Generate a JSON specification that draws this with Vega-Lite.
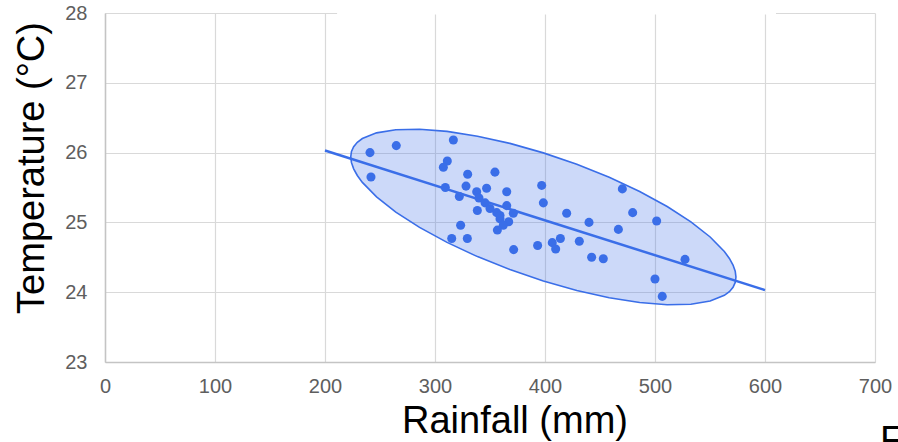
{
  "$schema": "https://vega.github.io/schema/vega-lite/v6.json",
  "width": 770,
  "height": 349,
  "autosize": {"type": "none"},
  "padding": {"left": 105, "top": 13, "right": 23, "bottom": 80},
  "background": "white",
  "config": {
    "view": {"stroke": null},
    "axis": {
      "labelFont": "Liberation Sans",
      "titleFont": "Liberation Sans",
      "labelFontSize": 20,
      "labelColor": "#5e5e5e",
      "titleFontSize": 38,
      "titleFontWeight": "normal",
      "titleColor": "#000000",
      "gridColor": "#d9d9d9",
      "gridWidth": 1.2,
      "domainColor": "#c4c4c4",
      "domainWidth": 1.5,
      "ticks": false,
      "labelFlush": false,
      "titleBaseline": "alphabetic"
    },
    "axisX": {"labelPadding": 14, "titleX": 409.5, "titleY": 70.5, "titleAnchor": null},
    "axisY": {"labelPadding": 18, "titleX": -62, "titleY": 154.5}
  },
  "datasets": {
    "ell": [
      {"rain": 223.4, "temp": 25.939, "temp2": 25.939},
      {"rain": 224.07, "temp": 26.016, "temp2": 25.856},
      {"rain": 226.06, "temp": 26.085, "temp2": 25.767},
      {"rain": 229.37, "temp": 26.147, "temp2": 25.672},
      {"rain": 233.96, "temp": 26.201, "temp2": 25.573},
      {"rain": 246.86, "temp": 26.283, "temp2": 25.365},
      {"rain": 264.37, "temp": 26.328, "temp2": 25.148},
      {"rain": 285.94, "temp": 26.335, "temp2": 24.928},
      {"rain": 310.95, "temp": 26.304, "temp2": 24.714},
      {"rain": 338.62, "temp": 26.235, "temp2": 24.51},
      {"rain": 368.1, "temp": 26.132, "temp2": 24.324},
      {"rain": 398.5, "temp": 25.996, "temp2": 24.16},
      {"rain": 428.9, "temp": 25.833, "temp2": 24.025},
      {"rain": 458.38, "temp": 25.646, "temp2": 23.921},
      {"rain": 486.05, "temp": 25.443, "temp2": 23.853},
      {"rain": 511.06, "temp": 25.228, "temp2": 23.821},
      {"rain": 532.63, "temp": 25.008, "temp2": 23.828},
      {"rain": 550.14, "temp": 24.791, "temp2": 23.873},
      {"rain": 563.04, "temp": 24.583, "temp2": 23.955},
      {"rain": 567.63, "temp": 24.484, "temp2": 24.008},
      {"rain": 570.94, "temp": 24.389, "temp2": 24.071},
      {"rain": 572.93, "temp": 24.3, "temp2": 24.14},
      {"rain": 573.6, "temp": 24.217, "temp2": 24.217}
    ],
    "reg": [
      {"rain": 200, "temp": 26.03},
      {"rain": 600, "temp": 24.03}
    ],
    "gap": [
      {"rain": 211, "rain2": 610, "temp": 28}
    ],
    "note": [
      {"rain": 704.5, "temp": 22.13, "label": "F"}
    ],
    "pts": [
      {"rain": 240.9, "temp": 26.0},
      {"rain": 264.8, "temp": 26.1},
      {"rain": 241.8, "temp": 25.65},
      {"rain": 316.7, "temp": 26.18},
      {"rain": 311.2, "temp": 25.88},
      {"rain": 307.6, "temp": 25.79},
      {"rain": 329.7, "temp": 25.69},
      {"rain": 354.5, "temp": 25.72},
      {"rain": 309.4, "temp": 25.5},
      {"rain": 328.2, "temp": 25.52},
      {"rain": 322.1, "temp": 25.37},
      {"rain": 337.9, "temp": 25.44},
      {"rain": 346.9, "temp": 25.49},
      {"rain": 340.0, "temp": 25.35},
      {"rain": 345.5, "temp": 25.28},
      {"rain": 338.5, "temp": 25.17},
      {"rain": 365.2, "temp": 25.44},
      {"rain": 365.2, "temp": 25.24},
      {"rain": 350.0, "temp": 25.2},
      {"rain": 356.1, "temp": 25.14},
      {"rain": 359.1, "temp": 25.05},
      {"rain": 359.1, "temp": 25.1},
      {"rain": 367.0, "temp": 25.01},
      {"rain": 371.2, "temp": 25.13},
      {"rain": 362.1, "temp": 24.96},
      {"rain": 356.7, "temp": 24.89},
      {"rain": 323.3, "temp": 24.96},
      {"rain": 315.2, "temp": 24.77},
      {"rain": 329.4, "temp": 24.77},
      {"rain": 371.5, "temp": 24.61},
      {"rain": 397.0, "temp": 25.53},
      {"rain": 398.5, "temp": 25.28},
      {"rain": 419.7, "temp": 25.13},
      {"rain": 440.0, "temp": 25.0},
      {"rain": 466.7, "temp": 24.9},
      {"rain": 393.3, "temp": 24.67},
      {"rain": 406.6, "temp": 24.71},
      {"rain": 409.7, "temp": 24.62},
      {"rain": 414.0, "temp": 24.77},
      {"rain": 431.2, "temp": 24.73},
      {"rain": 442.4, "temp": 24.5},
      {"rain": 453.0, "temp": 24.48},
      {"rain": 470.3, "temp": 25.48},
      {"rain": 479.7, "temp": 25.14},
      {"rain": 501.5, "temp": 25.02},
      {"rain": 527.3, "temp": 24.47},
      {"rain": 500.0, "temp": 24.19},
      {"rain": 506.6, "temp": 23.94}
    ]
  },
  "layer": [
    {
      "data": {"name": "gap"},
      "mark": {"type": "rule", "color": "white", "strokeWidth": 3},
      "encoding": {
        "x": {"field": "rain", "type": "quantitative", "title": "Rainfall (mm)",
              "scale": {"domain": [0, 700], "nice": false},
              "axis": {"values": [0, 100, 200, 300, 400, 500, 600, 700], "format": "d"}},
        "x2": {"field": "rain2"},
        "y": {"field": "temp", "type": "quantitative", "title": "Temperature (°C)",
              "scale": {"domain": [23, 28], "nice": false, "zero": false},
              "axis": {"values": [23, 24, 25, 26, 27, 28], "format": "d"}}
      }
    },
    {
      "data": {"name": "ell"},
      "mark": {"type": "area", "fill": "#3a6ee8", "fillOpacity": 0.26, "stroke": "#3a6ee8", "strokeWidth": 1.6},
      "encoding": {
        "x": {"field": "rain", "type": "quantitative"},
        "y": {"field": "temp", "type": "quantitative"},
        "y2": {"field": "temp2"}
      }
    },
    {
      "data": {"name": "reg"},
      "mark": {"type": "line", "color": "#3a6ee8", "strokeWidth": 2.5},
      "encoding": {
        "x": {"field": "rain", "type": "quantitative"},
        "y": {"field": "temp", "type": "quantitative"}
      }
    },
    {
      "data": {"name": "pts"},
      "mark": {"type": "point", "filled": true, "opacity": 1, "color": "#3a6ee8", "size": 82},
      "encoding": {
        "x": {"field": "rain", "type": "quantitative"},
        "y": {"field": "temp", "type": "quantitative"}
      }
    },
    {
      "data": {"name": "note"},
      "mark": {"type": "text", "align": "left", "baseline": "top", "font": "Liberation Sans", "fontSize": 38, "color": "#000000"},
      "encoding": {
        "x": {"field": "rain", "type": "quantitative"},
        "y": {"field": "temp", "type": "quantitative"},
        "text": {"field": "label"}
      }
    }
  ]
}
